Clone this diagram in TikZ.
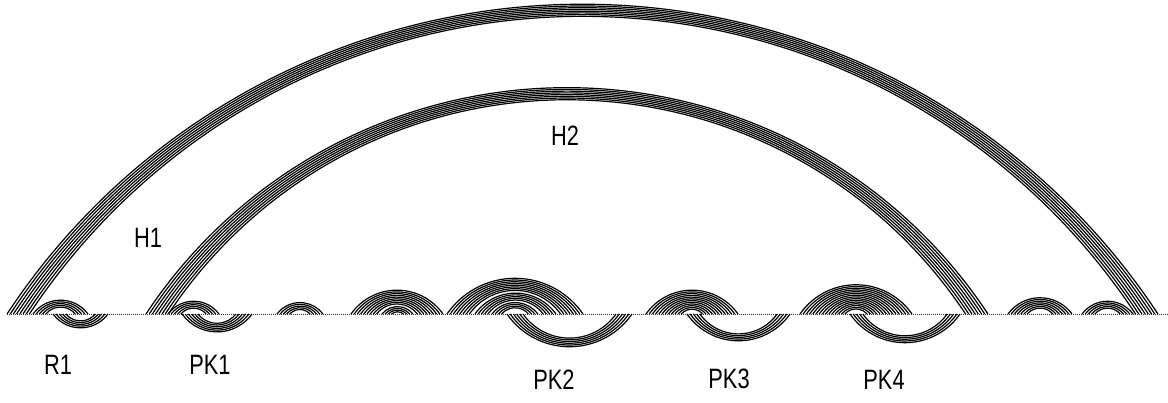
\documentclass[tikz,border=0pt]{standalone}
\usepackage{fontspec}
\setmainfont{Liberation Sans}
\begin{document}
\begin{tikzpicture}[x=1pt,y=1pt,
  pair/.style={line width=1.2pt, black},
  backbone/.style={line width=0.9pt, dash pattern=on 1pt off 1pt, black!80},
  lbl/.style={inner sep=0pt, font=\fontsize{28}{32}\selectfont}]
\useasboundingbox (0,0) rectangle (1168,402);
% layout constants: baseline height, spacing of neighbouring residues,
% arc height = \hslope * span - \hoffset
\def\basey{88}
\def\pairsep{3.2}
\def\hslope{0.27}
\def\hoffset{1}
% one helix: outermost pair (#1,#2), #3 stacked pairs,
% #4 = 1 above the backbone / -1 below it; every pair is a circular segment
\newcommand\helixarcs[4]{%
  \foreach \k in {1,...,#3}{%
    \edef\sp{\fpeval{(#2-#1)-2*(\k-1)*\pairsep}}%
    \edef\cc{\fpeval{\sp/2}}%
    \edef\hh{\fpeval{\hslope*\sp-\hoffset}}%
    \edef\rr{\fpeval{((\cc)^2+(\hh)^2)/(2*\hh)}}%
    \edef\al{\fpeval{atand(\cc,\rr-\hh)}}%
    \edef\xl{\fpeval{#1+(\k-1)*\pairsep}}%
    \edef\sa{\fpeval{90*#4+\al*#4}}%
    \edef\ea{\fpeval{90*#4-\al*#4}}%
    \draw[pair] (\xl,\basey) arc[start angle=\sa,end angle=\ea,radius=\rr];
  }}
% sequence backbone
\draw[backbone] (7,\basey) -- (1168,\basey);
% long-range helices
\helixarcs{7}{1158}{8}{1}
\helixarcs{146}{988}{8}{1}
% R1
\helixarcs{33}{88}{5}{1}
\helixarcs{53}{108}{5}{-1}
% PK1
\helixarcs{168}{219}{5}{1}
\helixarcs{182}{252}{6}{-1}
% hairpins between PK1 and PK2
\helixarcs{277}{323}{5}{1}
\helixarcs{351}{443}{9}{1}
\helixarcs{382}{413}{4}{1}
% PK2
\helixarcs{447}{583}{8}{1}
\helixarcs{475}{556}{5}{1}
\helixarcs{492}{538}{4}{1}
\helixarcs{507}{632}{6}{-1}
% PK3
\helixarcs{646}{738}{12}{1}
\helixarcs{687}{790}{5}{-1}
% PK4
\helixarcs{800}{912}{15}{1}
\helixarcs{850}{960}{5}{-1}
% 3' hairpins
\helixarcs{1008}{1072}{7}{1}
\helixarcs{1082}{1133}{5}{1}
% labels
\node[lbl] (r1)  at (58,37)   {\scalebox{0.78}[1]{R1}};
\node[lbl] (pk1) at (210,37)  {\scalebox{0.78}[1]{PK1}};
\node[lbl] (pk2) at (554,22)  {\scalebox{0.78}[1]{PK2}};
\node[lbl] (pk3) at (729,23)  {\scalebox{0.78}[1]{PK3}};
\node[lbl] (pk4) at (884,22)  {\scalebox{0.78}[1]{PK4}};
\node[lbl] (h1)  at (148,164) {\scalebox{0.78}[1]{H1}};
\node[lbl] (h2)  at (565,266) {\scalebox{0.78}[1]{H2}};
\end{tikzpicture}
\end{document}
